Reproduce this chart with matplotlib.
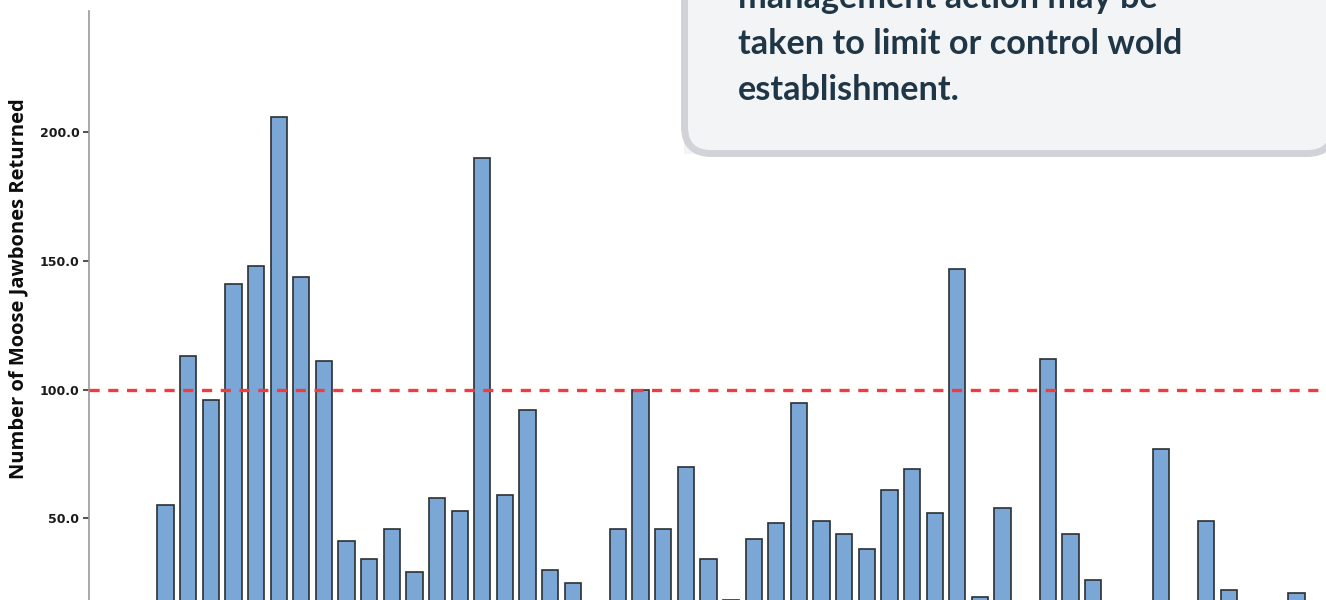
import numpy as np
import matplotlib
matplotlib.use("Agg")
import matplotlib.pyplot as plt
from matplotlib.patches import FancyBboxPatch, Rectangle
from matplotlib.transforms import IdentityTransform

plt.rcParams['lines.scale_dashes'] = False

# ---- data (bars below ~18 are hidden by the crop) ----
jawbones = [55, 113, 96, 141, 148, 206, 144, 111, 41, 34,
            46, 29, 58, 53, 190, 59, 92, 30, 25, 12,
            46, 100, 46, 70, 34, 18.3, 42, 48, 95, 49,
            44, 38, 61, 69, 52, 147, 19.5, 54, 10, 112,
            44, 26, 8, 14, 77, 9, 49, 22, 11, 7, 21]
threshold = 100
y_ticks = [50, 100, 150, 200]
y_tick_labels = ["50.0", "100.0", "150.0", "200.0"]
y_label = "Number of Moose Jawbones Returned"
note_lines = ["management action may be",
              "taken to limit or control wold",
              "establishment."]

W, H = 1326, 600
fig = plt.figure(figsize=(W / 100, H / 100), dpi=100)
fig.patch.set_facecolor("white")

# axes: zero sits below the visible crop, top of axis at y=11px
y0_px, ytop_px = 646.9, 11.0
ymax = (y0_px - ytop_px) / 2.572
ax_left = 89 / W
ax = fig.add_axes([ax_left, (H - y0_px) / H, 1.0 - ax_left + 0.02, (y0_px - ytop_px) / H])
ax.set_facecolor("none")

x = np.arange(len(jawbones))
ax.bar(x, jawbones, width=0.72, color="#7ba7d6", edgecolor="#2b2f33", linewidth=1.2, zorder=2)
ax.axhline(threshold, color="#f03c40", linewidth=2.4, dashes=(7.3, 6.2), zorder=3)

px_per_unit = 22.62
xmin = -(165.6 - 89) / px_per_unit
ax.set_xlim(xmin, xmin + (W * (1.0 - ax_left + 0.02)) / px_per_unit)
ax.set_ylim(0, ymax)

for s in ["top", "right", "bottom"]:
    ax.spines[s].set_visible(False)
ax.spines["left"].set_color("#9a9a9a")
ax.spines["left"].set_linewidth(1.2)
ax.set_xticks([])
ax.set_yticks(y_ticks)
ax.set_yticklabels(y_tick_labels, fontsize=9, fontweight="bold", color="#1a1a1a")
ax.tick_params(axis="y", length=4.5, width=1.1, color="#222222", pad=2.5)

fig.text(18 / W, (H - 288.5) / H, y_label, rotation=90, ha="center", va="center",
         fontsize=14.5, fontweight="bold", family=["Open Sans", "DejaVu Sans"], color="#0d0d0d")

# ---- annotation box (display pixel coordinates) ----
tr = IdentityTransform()
def py(yimg):
    return H - yimg

sq = Rectangle((684, py(154)), W - 684 + 10, 200, transform=tr,
               facecolor="#f3f4f6", edgecolor="none", zorder=5)
fig.add_artist(sq)
box = FancyBboxPatch((684.5, py(153.5)), 1334 - 684.5, 300,
                     boxstyle="round,pad=0,rounding_size=27", transform=tr,
                     facecolor="#f3f4f6", edgecolor="#d1d3d9", linewidth=5.0, zorder=6)
fig.add_artist(box)

baselines = [8.5, 54, 99.5]
for line, b in zip(note_lines, baselines):
    fig.text(738 / W, (H - b) / H, line, ha="left", va="baseline",
             fontsize=24.7, fontweight="bold", family=["Lato", "DejaVu Sans"],
             color="#1f3647", zorder=7)

fig.savefig("out.png", dpi=100, facecolor="white")
